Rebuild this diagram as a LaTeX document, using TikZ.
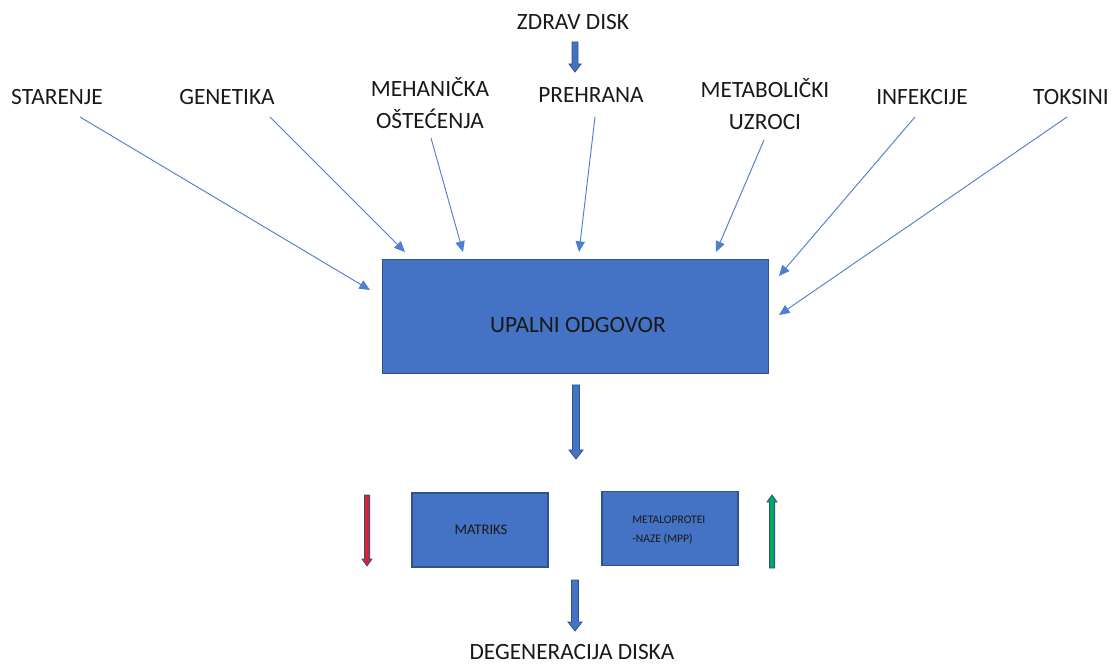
\documentclass[tikz,border=0pt]{standalone}
\usepackage{fontspec}
\setmainfont{Carlito}
\usetikzlibrary{arrows.meta}
\definecolor{boxblue}{HTML}{4472C4}
\definecolor{boxedge}{HTML}{2F528F}
\definecolor{thinblue}{HTML}{4F7FD0}
\definecolor{redfill}{HTML}{E0202C}
\definecolor{greenfill}{HTML}{00A860}
\tikzset{
  lbl/.style={font=\fontsize{17.5}{23.5}\selectfont, align=center, inner sep=0pt, text=black!90},
  bigbox/.style={draw=boxedge, fill=boxblue, line width=0.9pt},
  thin/.style={draw=thinblue, line width=0.7pt, -{Triangle[length=8pt,width=7pt]}},
  blk/.style={draw=boxedge, line width=0.6pt},
}
% vertical block arrow: x, y tail, y tip, shaft half width, head half width, head length, fill
\newcommand\vblockarrow[7]{%
  \pgfmathsetmacro\dirsign{(#3>#2)?1:-1}%
  \draw[blk, fill=#7] ({#1-#4},#2) -- ({#1+#4},#2) -- ({#1+#4},{#3-\dirsign*#6}) -- ({#1+#5},{#3-\dirsign*#6}) -- (#1,#3) -- ({#1-#5},{#3-\dirsign*#6}) -- ({#1-#4},{#3-\dirsign*#6}) -- cycle;}
\begin{document}
\begin{tikzpicture}[x=0.75pt,y=-0.75pt]
\useasboundingbox (0,0) rectangle (1114,666);
% labels
\node[lbl] (zdrav) at (573,22) {ZDRAV DISK};
\node[lbl] (star) at (57,97) {STARENJE};
\node[lbl] (gen) at (227,97) {GENETIKA};
\node[lbl] (meh) at (430,103) {MEHANIČKA\\OŠTEĆENJA};
\node[lbl] (preh) at (591,95) {PREHRANA};
\node[lbl] (meta) at (765,104) {METABOLIČKI\\UZROCI};
\node[lbl] (inf) at (922,97) {INFEKCIJE};
\node[lbl] (tok) at (1071,97) {TOKSINI};
\node[lbl] (deg) at (572,652) {DEGENERACIJA DISKA};
% main box
\node[bigbox, minimum width=289pt, minimum height=85pt, inner sep=0pt] (upal) at (575.5,316.5) {};
\node[lbl] (upaltxt) at (578,325) {UPALNI ODGOVOR};
% lower boxes
\node[bigbox, minimum width=102pt, minimum height=55.5pt, inner sep=0pt] (matr) at (480,530) {};
\node[font=\fontsize{11}{13}\selectfont, inner sep=0pt, text=black!90] (matrtxt) at (481,530) {MATRIKS};
\node[bigbox, minimum width=102pt, minimum height=56pt, inner sep=0pt] (mmp) at (670,528.5) {};
\node[font=\fontsize{8.7}{14}\selectfont, align=left, inner sep=0pt, text=black!90, anchor=west] (mmptxt) at (632,530) {METALOPROTEI\\-NAZE (MPP)};
% start / end coordinates of thin arrows
\coordinate (s1) at (80,117);   \coordinate (e1) at (370,290);
\coordinate (s2) at (270,117);  \coordinate (e2) at (405,252);
\coordinate (s3) at (431,138);  \coordinate (e3) at (463,252);
\coordinate (s4) at (595,117);  \coordinate (e4) at (579,252);
\coordinate (s5) at (764,140);  \coordinate (e5) at (716,252);
\coordinate (s6) at (915,117);  \coordinate (e6) at (779,276);
\coordinate (s7) at (1067,117); \coordinate (e7) at (779,315);
\foreach \i in {1,...,7} { \draw[thin] (s\i) -- (e\i); }
% block arrows
\vblockarrow{575}{42}{72}{3}{6}{8}{boxblue}
\vblockarrow{576}{385}{459}{3.5}{7}{9}{boxblue}
\vblockarrow{575}{580}{631}{3.5}{7}{9}{boxblue}
\vblockarrow{367}{495}{566}{2.6}{5}{7}{redfill}
\vblockarrow{772}{568}{495}{2.6}{5}{7}{greenfill}
\end{tikzpicture}
\end{document}
